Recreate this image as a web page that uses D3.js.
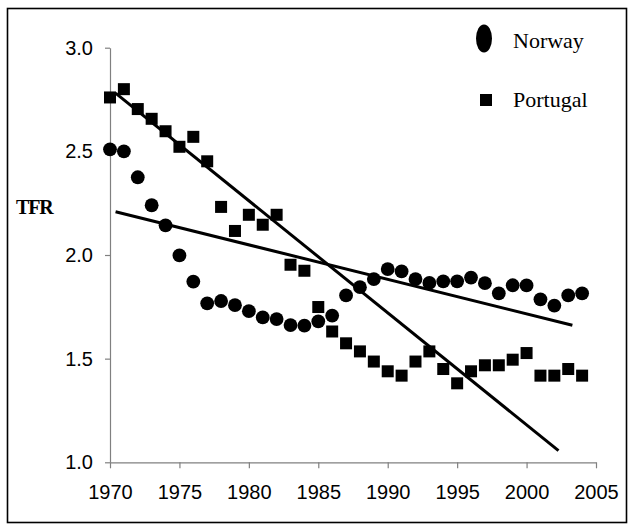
<!DOCTYPE html>
<html>
<head>
<meta charset="utf-8">
<script src="https://cdn.jsdelivr.net/npm/d3@7"></script>
<style>
  html, body { margin: 0; padding: 0; background: #fff; }
  svg { display: block; }
</style>
</head>
<body>
<svg id="chart" width="634" height="532"></svg>
<script>
const years = [1970,1971,1972,1973,1974,1975,1976,1977,1978,1979,1980,1981,1982,1983,1984,1985,1986,1987,1988,1989,1990,1991,1992,1993,1994,1995,1996,1997,1998,1999,2000,2001,2002,2003,2004];
const norway = [2.51,2.50,2.375,2.24,2.143,1.998,1.872,1.767,1.778,1.758,1.729,1.699,1.691,1.662,1.659,1.680,1.708,1.805,1.845,1.884,1.932,1.921,1.884,1.865,1.873,1.873,1.891,1.864,1.815,1.854,1.853,1.786,1.756,1.805,1.815];
const portugal = [2.76,2.80,2.704,2.657,2.597,2.522,2.570,2.452,2.232,2.116,2.194,2.146,2.194,1.953,1.924,1.749,1.631,1.574,1.535,1.486,1.439,1.418,1.486,1.535,1.450,1.381,1.439,1.468,1.468,1.495,1.527,1.418,1.418,1.450,1.418];
const norwayTrend = [[1970.4, 2.209], [2003.3, 1.661]];
const portugalTrend = [[1970.4, 2.781], [2002.3, 1.056]];
const xTicks = [1970,1975,1980,1985,1990,1995,2000,2005];
const yTicks = [1.0,1.5,2.0,2.5,3.0];
const seriesNames = ["Norway", "Portugal"];
const yLabel = "TFR";

const svg = d3.select("#chart");
svg.append("rect").attr("x",0).attr("y",0).attr("width",634).attr("height",532).attr("fill","#fff");
svg.append("rect").attr("x",7.5).attr("y",8.5).attr("width",619).attr("height",514)
  .attr("fill","none").attr("stroke","#000").attr("stroke-width",1.6);

const x = d3.scaleLinear().domain([1970,2005]).range([110,596]);
const y = d3.scaleLinear().domain([1,3]).range([462.3,47.7]);

const gx = svg.append("g").attr("transform", `translate(0,${y(1)})`)
  .call(d3.axisBottom(x).tickValues(xTicks).tickFormat(d3.format("d")).tickSize(6).tickSizeOuter(0).tickPadding(17));
const gy = svg.append("g").attr("transform", `translate(${x(1970)},0)`)
  .call(d3.axisLeft(y).tickValues(yTicks).tickFormat(d3.format(".1f")).tickSize(5).tickSizeOuter(0).tickPadding(12));
[gx, gy].forEach(g => {
  g.select(".domain").attr("stroke","#808080").attr("stroke-width",1.2);
  g.selectAll(".tick line").attr("stroke","#808080").attr("stroke-width",1.2);
  g.selectAll(".tick text").attr("fill","#000").style("font-family","'Liberation Sans', Arial, sans-serif").style("font-size","20px");
});

// Norway circles
svg.append("g").selectAll("circle").data(years.map((yr,i)=>({yr, v:norway[i]})))
  .join("circle").attr("cx",d=>x(d.yr)).attr("cy",d=>y(d.v)).attr("r",6.9).attr("fill","#000");

// Portugal squares
const sq = 12;
svg.append("g").selectAll("rect").data(years.map((yr,i)=>({yr, v:portugal[i]})))
  .join("rect").attr("x",d=>x(d.yr)-sq/2).attr("y",d=>y(d.v)-sq/2).attr("width",sq).attr("height",sq).attr("fill","#000");

// Trend lines
const line = d3.line().x(d=>x(d[0])).y(d=>y(d[1]));
[norwayTrend, portugalTrend].forEach(t => {
  svg.append("path").attr("d", line(t)).attr("fill","none").attr("stroke","#000").attr("stroke-width",3);
});

// Legend
svg.append("ellipse").attr("cx",484).attr("cy",38.5).attr("rx",8).attr("ry",14).attr("fill","#000");
svg.append("rect").attr("x",480).attr("y",94).attr("width",12).attr("height",12).attr("fill","#000");
svg.append("text").attr("x",513).attr("y",48).text(seriesNames[0])
  .style("font-family","'Liberation Serif', 'Times New Roman', serif").style("font-size","22px").attr("fill","#000");
svg.append("text").attr("x",513).attr("y",107).text(seriesNames[1])
  .style("font-family","'Liberation Serif', 'Times New Roman', serif").style("font-size","22px").attr("fill","#000");

// Y label
svg.append("text").attr("x",16).attr("y",214).text(yLabel)
  .style("font-family","'Liberation Serif', 'Times New Roman', serif").style("font-size","20px")
  .style("font-weight","bold").style("letter-spacing","-1.2px").attr("fill","#000");
</script>
</body>
</html>
